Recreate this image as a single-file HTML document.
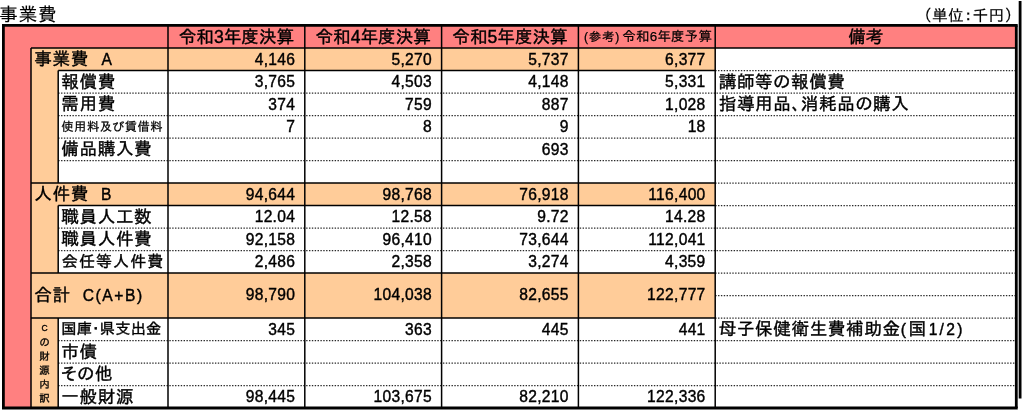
<!DOCTYPE html>
<html lang="ja"><head><meta charset="utf-8"><title>事業費</title><style>
html,body{margin:0;padding:0;background:#fff}
body{width:1024px;height:410px;position:relative;overflow:hidden;font-family:"Liberation Sans","IPAPGothic","IPAGothic","Noto Sans CJK JP",sans-serif;color:#000}
.b,.s,.d,.t{position:absolute}
.s{background:#000}
svg rect{stroke:none}
svg .d{stroke:#2a2a2a;stroke-width:1.25;stroke-dasharray:1.4 1.45}
.t{white-space:nowrap;font-size:17.6px;-webkit-text-stroke:0.4px #000}
.title{-webkit-text-stroke-width:0.15px;left:-0.7px;top:3.6px;font-size:18.5px;line-height:22px;letter-spacing:0.9px}
.unit{-webkit-text-stroke-width:0.15px;right:10.2px;top:7px;font-size:15.8px;line-height:18px;letter-spacing:0.35px}
.h{text-align:center}
.l{letter-spacing:0.6px}
.h.sm{font-size:13.4px;-webkit-text-stroke-width:0.25px;padding-left:2.7px;box-sizing:border-box;letter-spacing:0.3px}
.p{font-size:12.1px;letter-spacing:1px;margin-right:2px}
.n{text-align:right;font-size:15.6px;padding-top:0.8px;letter-spacing:0.3px}
.sm2{-webkit-text-stroke-width:0.25px;font-size:12.3px;letter-spacing:0.5px}
.md{font-size:15.2px;letter-spacing:0.2px}
.k6{font-size:16px;letter-spacing:1.1px}
.e{font-size:15.6px}
.v{-webkit-text-stroke-width:0.3px;font-size:10.5px;line-height:14.06px;text-align:center}
</style></head><body>
<svg width="1024" height="410" viewBox="0 0 1024 410" style="position:absolute;left:0;top:0" stroke="#000" fill="none">
<rect x="3.4" y="25.5" width="1012.9" height="382.5" fill="#ff8080"/>
<rect x="31" y="48.0" width="684.2" height="360.0" fill="#ffcc99"/>
<rect x="715.2" y="48.0" width="301.1" height="360.0" fill="#fff"/>
<rect x="58.2" y="70.5" width="657.0" height="112.5" fill="#fff"/>
<rect x="58.2" y="205.5" width="657.0" height="67.5" fill="#fff"/>
<rect x="58.2" y="318.0" width="657.0" height="90.0" fill="#fff"/>
<line x1="58.2" y1="93.0" x2="1016.3" y2="93.0" class="d"/>
<line x1="58.2" y1="115.5" x2="1016.3" y2="115.5" class="d"/>
<line x1="58.2" y1="138.0" x2="1016.3" y2="138.0" class="d"/>
<line x1="58.2" y1="160.5" x2="1016.3" y2="160.5" class="d"/>
<line x1="58.2" y1="228.0" x2="1016.3" y2="228.0" class="d"/>
<line x1="58.2" y1="250.5" x2="1016.3" y2="250.5" class="d"/>
<line x1="58.2" y1="340.5" x2="1016.3" y2="340.5" class="d"/>
<line x1="58.2" y1="363.0" x2="1016.3" y2="363.0" class="d"/>
<line x1="58.2" y1="385.5" x2="1016.3" y2="385.5" class="d"/>
<line x1="715.2" y1="70.5" x2="1016.3" y2="70.5" class="d"/>
<line x1="715.2" y1="183.0" x2="1016.3" y2="183.0" class="d"/>
<line x1="715.2" y1="205.5" x2="1016.3" y2="205.5" class="d"/>
<line x1="715.2" y1="273.0" x2="1016.3" y2="273.0" class="d"/>
<line x1="715.2" y1="295.5" x2="1016.3" y2="295.5" class="d"/>
<line x1="715.2" y1="318.0" x2="1016.3" y2="318.0" class="d"/>
<line x1="31" y1="48.0" x2="1016.3" y2="48.0" stroke-width="1.5"/>
<line x1="58.2" y1="70.5" x2="715.2" y2="70.5" stroke-width="1.5"/>
<line x1="31" y1="183.0" x2="715.2" y2="183.0" stroke-width="1.5"/>
<line x1="58.2" y1="205.5" x2="715.2" y2="205.5" stroke-width="1.5"/>
<line x1="31" y1="273.0" x2="715.2" y2="273.0" stroke-width="1.5"/>
<line x1="31" y1="318.0" x2="715.2" y2="318.0" stroke-width="1.5"/>
<line x1="168" y1="25.5" x2="168" y2="408.0" stroke-width="1.5"/>
<line x1="304.8" y1="25.5" x2="304.8" y2="408.0" stroke-width="1.5"/>
<line x1="441.6" y1="25.5" x2="441.6" y2="408.0" stroke-width="1.5"/>
<line x1="578.4" y1="25.5" x2="578.4" y2="408.0" stroke-width="1.5"/>
<line x1="715.2" y1="25.5" x2="715.2" y2="408.0" stroke-width="1.5"/>
<line x1="31" y1="48.0" x2="31" y2="408.0" stroke-width="1.5"/>
<line x1="58.2" y1="70.5" x2="58.2" y2="183.0" stroke-width="1.5"/>
<line x1="58.2" y1="205.5" x2="58.2" y2="273.0" stroke-width="1.5"/>
<line x1="58.2" y1="318.0" x2="58.2" y2="408.0" stroke-width="1.5"/>
<line x1="2.0" y1="25.3" x2="1017.6999999999999" y2="25.3" stroke-width="2.8"/>
<line x1="2.0" y1="408.0" x2="1017.6999999999999" y2="408.0" stroke-width="2.8"/>
<line x1="3.4" y1="25.5" x2="3.4" y2="408.0" stroke-width="2.8"/>
<line x1="1016.3" y1="25.5" x2="1016.3" y2="408.0" stroke-width="2.8"/>
<line x1="1020.1" y1="1" x2="1020.1" y2="398.5" stroke-width="2.8"/>
</svg>
<div class="t title">事業費</div>
<div class="t unit">（単位：千円）</div>
<div class="t h " style="left:168px;width:136.8px;top:25.5px;height:22.5px;line-height:22.5px">令和3年度決算</div>
<div class="t h " style="left:304.8px;width:136.8px;top:25.5px;height:22.5px;line-height:22.5px">令和4年度決算</div>
<div class="t h " style="left:441.6px;width:136.8px;top:25.5px;height:22.5px;line-height:22.5px">令和5年度決算</div>
<div class="t h sm" style="left:578.4px;width:136.8px;top:25.5px;height:22.5px;line-height:22.5px"><span class="p">(参考)</span>令和6年度予算</div>
<div class="t h " style="left:715.2px;width:301.1px;top:25.5px;height:22.5px;line-height:22.5px">備考</div>
<div class="t l " style="left:34.3px;top:48.0px;height:22.5px;line-height:22.5px">事業費<span class="e" style="margin-left:12.5px">A</span></div>
<div class="t l " style="left:61.3px;top:70.5px;height:22.5px;line-height:22.5px">報償費</div>
<div class="t l " style="left:61.3px;top:93.0px;height:22.5px;line-height:22.5px">需用費</div>
<div class="t l sm2" style="left:61.3px;top:115.5px;height:22.5px;line-height:22.5px">使用料及び賃借料</div>
<div class="t l " style="left:61.3px;top:138.0px;height:22.5px;line-height:22.5px">備品購入費</div>
<div class="t l " style="left:34.3px;top:183.0px;height:22.5px;line-height:22.5px">人件費<span class="e" style="margin-left:12px">B</span></div>
<div class="t l " style="left:61.3px;top:205.5px;height:22.5px;line-height:22.5px">職員人工数</div>
<div class="t l " style="left:61.3px;top:228.0px;height:22.5px;line-height:22.5px">職員人件費</div>
<div class="t l k6" style="left:61.8px;top:250.5px;height:22.5px;line-height:22.5px">会任等人件費</div>
<div class="t l " style="left:34.3px;top:273.0px;height:45.0px;line-height:45.0px">合計<span class="e" style="margin-left:12px;letter-spacing:1.6px">C(A+B)</span></div>
<div class="t l md" style="left:61.3px;top:318.0px;height:22.5px;line-height:22.5px">国庫・県支出金</div>
<div class="t l " style="left:61.3px;top:340.5px;height:22.5px;line-height:22.5px">市債</div>
<div class="t l " style="left:61.3px;top:363.0px;height:22.5px;line-height:22.5px">その他</div>
<div class="t l " style="left:61.3px;top:385.5px;height:22.5px;line-height:22.5px">一般財源</div>
<div class="t n" style="left:168px;width:127.2px;top:48.0px;height:22.5px;line-height:22.5px">4,146</div>
<div class="t n" style="left:304.8px;width:127.2px;top:48.0px;height:22.5px;line-height:22.5px">5,270</div>
<div class="t n" style="left:441.6px;width:127.2px;top:48.0px;height:22.5px;line-height:22.5px">5,737</div>
<div class="t n" style="left:578.4px;width:127.2px;top:48.0px;height:22.5px;line-height:22.5px">6,377</div>
<div class="t n" style="left:168px;width:127.2px;top:70.5px;height:22.5px;line-height:22.5px">3,765</div>
<div class="t n" style="left:304.8px;width:127.2px;top:70.5px;height:22.5px;line-height:22.5px">4,503</div>
<div class="t n" style="left:441.6px;width:127.2px;top:70.5px;height:22.5px;line-height:22.5px">4,148</div>
<div class="t n" style="left:578.4px;width:127.2px;top:70.5px;height:22.5px;line-height:22.5px">5,331</div>
<div class="t n" style="left:168px;width:127.2px;top:93.0px;height:22.5px;line-height:22.5px">374</div>
<div class="t n" style="left:304.8px;width:127.2px;top:93.0px;height:22.5px;line-height:22.5px">759</div>
<div class="t n" style="left:441.6px;width:127.2px;top:93.0px;height:22.5px;line-height:22.5px">887</div>
<div class="t n" style="left:578.4px;width:127.2px;top:93.0px;height:22.5px;line-height:22.5px">1,028</div>
<div class="t n" style="left:168px;width:127.2px;top:115.5px;height:22.5px;line-height:22.5px">7</div>
<div class="t n" style="left:304.8px;width:127.2px;top:115.5px;height:22.5px;line-height:22.5px">8</div>
<div class="t n" style="left:441.6px;width:127.2px;top:115.5px;height:22.5px;line-height:22.5px">9</div>
<div class="t n" style="left:578.4px;width:127.2px;top:115.5px;height:22.5px;line-height:22.5px">18</div>
<div class="t n" style="left:441.6px;width:127.2px;top:138.0px;height:22.5px;line-height:22.5px">693</div>
<div class="t n" style="left:168px;width:127.2px;top:183.0px;height:22.5px;line-height:22.5px">94,644</div>
<div class="t n" style="left:304.8px;width:127.2px;top:183.0px;height:22.5px;line-height:22.5px">98,768</div>
<div class="t n" style="left:441.6px;width:127.2px;top:183.0px;height:22.5px;line-height:22.5px">76,918</div>
<div class="t n" style="left:578.4px;width:127.2px;top:183.0px;height:22.5px;line-height:22.5px">116,400</div>
<div class="t n" style="left:168px;width:127.2px;top:205.5px;height:22.5px;line-height:22.5px">12.04</div>
<div class="t n" style="left:304.8px;width:127.2px;top:205.5px;height:22.5px;line-height:22.5px">12.58</div>
<div class="t n" style="left:441.6px;width:127.2px;top:205.5px;height:22.5px;line-height:22.5px">9.72</div>
<div class="t n" style="left:578.4px;width:127.2px;top:205.5px;height:22.5px;line-height:22.5px">14.28</div>
<div class="t n" style="left:168px;width:127.2px;top:228.0px;height:22.5px;line-height:22.5px">92,158</div>
<div class="t n" style="left:304.8px;width:127.2px;top:228.0px;height:22.5px;line-height:22.5px">96,410</div>
<div class="t n" style="left:441.6px;width:127.2px;top:228.0px;height:22.5px;line-height:22.5px">73,644</div>
<div class="t n" style="left:578.4px;width:127.2px;top:228.0px;height:22.5px;line-height:22.5px">112,041</div>
<div class="t n" style="left:168px;width:127.2px;top:250.5px;height:22.5px;line-height:22.5px">2,486</div>
<div class="t n" style="left:304.8px;width:127.2px;top:250.5px;height:22.5px;line-height:22.5px">2,358</div>
<div class="t n" style="left:441.6px;width:127.2px;top:250.5px;height:22.5px;line-height:22.5px">3,274</div>
<div class="t n" style="left:578.4px;width:127.2px;top:250.5px;height:22.5px;line-height:22.5px">4,359</div>
<div class="t n" style="left:168px;width:127.2px;top:318.0px;height:22.5px;line-height:22.5px">345</div>
<div class="t n" style="left:304.8px;width:127.2px;top:318.0px;height:22.5px;line-height:22.5px">363</div>
<div class="t n" style="left:441.6px;width:127.2px;top:318.0px;height:22.5px;line-height:22.5px">445</div>
<div class="t n" style="left:578.4px;width:127.2px;top:318.0px;height:22.5px;line-height:22.5px">441</div>
<div class="t n" style="left:168px;width:127.2px;top:385.5px;height:22.5px;line-height:22.5px">98,445</div>
<div class="t n" style="left:304.8px;width:127.2px;top:385.5px;height:22.5px;line-height:22.5px">103,675</div>
<div class="t n" style="left:441.6px;width:127.2px;top:385.5px;height:22.5px;line-height:22.5px">82,210</div>
<div class="t n" style="left:578.4px;width:127.2px;top:385.5px;height:22.5px;line-height:22.5px">122,336</div>
<div class="t n" style="left:168px;width:127.2px;top:271.6px;height:45.0px;line-height:45.0px">98,790</div>
<div class="t n" style="left:304.8px;width:127.2px;top:271.6px;height:45.0px;line-height:45.0px">104,038</div>
<div class="t n" style="left:441.6px;width:127.2px;top:271.6px;height:45.0px;line-height:45.0px">82,655</div>
<div class="t n" style="left:578.4px;width:127.2px;top:271.6px;height:45.0px;line-height:45.0px">122,777</div>
<div class="t l " style="left:718.7px;top:70.5px;height:22.5px;line-height:22.5px">講師等の報償費</div>
<div class="t l " style="left:718.7px;top:93.0px;height:22.5px;line-height:22.5px">指導用品、消耗品の購入</div>
<div class="t l " style="left:718.7px;top:318.0px;height:22.5px;line-height:22.5px">母子保健衛生費補助金<span class="e" style="margin-right:2px">(</span>国<span class="e" style="letter-spacing:2.3px;margin-left:2px">1/2)</span></div>
<div class="t v" style="left:31px;width:27.200000000000003px;top:320.0px"><span style="font-size:8.5px">C</span><br>の<br>財<br>源<br>内<br>訳</div>
</body></html>
